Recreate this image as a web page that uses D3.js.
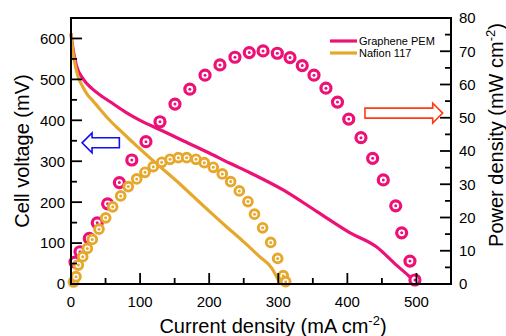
<!DOCTYPE html>
<html>
<head>
<meta charset="utf-8">
<script src="https://cdnjs.cloudflare.com/ajax/libs/d3/7.8.5/d3.min.js"></script>
<style>
  body { margin: 0; background: #fff; }
  text { font-family: "Liberation Sans", Arial, sans-serif; fill: #000; }
</style>
</head>
<body>
<div id="my_dataviz"></div>
<script>
// Polarization curves (current density mA cm-2, cell voltage mV)
var grapheneI = [0, 2, 5, 8, 18, 30, 42, 56, 80, 100, 129, 160, 200, 230, 259, 307, 356, 404, 442, 471, 490, 500];
var grapheneV = [612, 585, 555, 533, 500, 478, 462, 446, 419, 400, 377, 352, 320, 295, 272, 230, 177, 125, 91, 46, 18, 0];
var nafionI = [0, 2, 5, 10, 17, 24, 32, 42, 55, 70, 85, 100, 115, 130, 150, 177, 200, 225, 250, 273, 290, 303];
var nafionV = [612, 578, 545, 508, 482, 462, 447, 427, 402, 377, 353, 330, 307, 285, 256, 214, 178, 140, 103, 67, 40, 0];

// Power density points (current density mA cm-2, power density mW cm-2)
var graphenePI = [5.8, 13, 26.5, 38, 53, 70, 88, 108.5, 128.8, 150.5, 172, 194, 215.6, 237.3, 258, 278, 298.6, 317, 334.7, 351.7, 369, 385.7, 402, 419.7, 436.6, 452, 470, 478.6, 490.6, 497.8];
var grapheneP = [6.6, 9.7, 13.7, 18.4, 24.1, 30.5, 37.3, 42.8, 48.8, 54.1, 58.6, 62.8, 65.9, 68.2, 69.6, 70.1, 69.4, 68.1, 65.7, 62.8, 58.9, 54.7, 49.6, 44, 37.8, 31.3, 23.5, 15.4, 6.9, 1.2];
var nafionPI = [3.6, 7.2, 10.6, 16.9, 23.6, 30.8, 40.5, 50.2, 60.3, 71.9, 82.9, 95.1, 107.1, 119.1, 131.3, 143.3, 155.3, 167.4, 180.9, 192.9, 205.9, 219, 231.1, 243.6, 256.1, 265.6, 277.4, 289, 299.1, 307.2, 310.7];
var nafionP = [0.6, 2.2, 5.7, 8.2, 10.7, 13.4, 16.5, 19.9, 23.2, 26.5, 29.3, 31.6, 33.6, 35.3, 36.6, 37.5, 38.0, 38.0, 37.5, 36.5, 35.1, 33.1, 30.8, 28.0, 24.8, 21.0, 16.9, 12.5, 7.7, 2.5, 0.7];

var xTicks = [0, 100, 200, 300, 400, 500];
var xMinor = [50, 150, 250, 350, 450];
var yLeftTicks = [0, 100, 200, 300, 400, 500, 600];
var yLeftMinor = [50, 150, 250, 350, 450, 550];
var yRightTicks = [0, 10, 20, 30, 40, 50, 60, 70, 80];
var yRightMinor = [5, 15, 25, 35, 45, 55, 65, 75];

var seriesNames = ["Graphene PEM", "Nafion 117"];
var colors = ["#ec1077", "#e6a82c"];

var width = 506, height = 336;
var plotLeft = 71, plotRight = 451, plotTop = 18, plotBottom = 284;

var svg = d3.select("#my_dataviz")
    .append("svg")
    .attr("width", width)
    .attr("height", height);

var x = d3.scaleLinear().domain([0, 550]).range([plotLeft, plotRight]);
var yL = d3.scaleLinear().domain([0, 650]).range([plotBottom, plotTop]);
var yR = d3.scaleLinear().domain([0, 80]).range([plotBottom, plotTop]);

function zip(a, b) { return a.map(function(d, i) { return [d, b[i]]; }); }

var line = d3.line().curve(d3.curveMonotoneX);

// polarization lines
[[grapheneI, grapheneV, 0], [nafionI, nafionV, 1]].forEach(function(s) {
    svg.append("path")
        .attr("d", line(zip(s[0], s[1]).map(function(d) { return [x(d[0]), yL(d[1])]; })))
        .attr("fill", "none")
        .attr("stroke", colors[s[2]])
        .attr("stroke-width", 3.2)
        .attr("stroke-linejoin", "round");
});

// power density markers
function markers(I, P, c, r, sw) {
    var g = svg.append("g").selectAll("g")
        .data(zip(I, P))
        .enter()
        .append("g")
        .attr("transform", function(d) { return "translate(" + x(d[0]) + "," + yR(d[1]) + ")"; });
    g.append("circle").attr("r", r).attr("fill", "#fff").attr("stroke", c).attr("stroke-width", sw);
    g.append("circle").attr("r", 1.5).attr("fill", c);
}
markers(graphenePI, grapheneP, colors[0], 5, 3.2);
markers(nafionPI, nafionP, colors[1], 4.4, 2.9);

// frame
svg.append("rect")
    .attr("x", plotLeft).attr("y", plotTop)
    .attr("width", plotRight - plotLeft).attr("height", plotBottom - plotTop)
    .attr("fill", "none").attr("stroke", "#000").attr("stroke-width", 2);

// ticks (inward)
var tg = svg.append("g").attr("stroke", "#000").attr("stroke-width", 1.8);
xTicks.forEach(function(t) { tg.append("line").attr("x1", x(t)).attr("x2", x(t)).attr("y1", plotBottom).attr("y2", plotBottom - 11); });
xMinor.forEach(function(t) { tg.append("line").attr("x1", x(t)).attr("x2", x(t)).attr("y1", plotBottom).attr("y2", plotBottom - 6); });
yLeftTicks.forEach(function(t) { tg.append("line").attr("x1", plotLeft).attr("x2", plotLeft + 11).attr("y1", yL(t)).attr("y2", yL(t)); });
yLeftMinor.forEach(function(t) { tg.append("line").attr("x1", plotLeft).attr("x2", plotLeft + 6).attr("y1", yL(t)).attr("y2", yL(t)); });
yRightTicks.forEach(function(t) { tg.append("line").attr("x1", plotRight).attr("x2", plotRight - 11).attr("y1", yR(t)).attr("y2", yR(t)); });
yRightMinor.forEach(function(t) { tg.append("line").attr("x1", plotRight).attr("x2", plotRight - 6).attr("y1", yR(t)).attr("y2", yR(t)); });

// tick labels
svg.selectAll("xlab").data(xTicks).enter().append("text")
    .attr("x", function(d) { return x(d); })
    .attr("y", 307)
    .attr("text-anchor", "middle")
    .style("font-size", "15px")
    .text(function(d) { return d; });
svg.selectAll("ylab").data(yLeftTicks).enter().append("text")
    .attr("x", 65)
    .attr("y", function(d) { return yL(d); })
    .attr("dy", "0.36em")
    .attr("text-anchor", "end")
    .style("font-size", "15px")
    .text(function(d) { return d; });
svg.selectAll("rlab").data(yRightTicks).enter().append("text")
    .attr("x", 459)
    .attr("y", function(d) { return yR(d); })
    .attr("dy", "0.36em")
    .style("font-size", "15px")
    .text(function(d) { return d; });

// axis titles
svg.append("text")
    .attr("transform", "translate(29," + ((plotTop + plotBottom) / 2) + ")rotate(-90)")
    .attr("text-anchor", "middle")
    .style("font-size", "20px")
    .text("Cell voltage (mV)");

var xt = svg.append("text")
    .attr("x", 273).attr("y", 333)
    .attr("text-anchor", "middle")
    .style("font-size", "20px");
xt.append("tspan").text("Current density (mA cm");
xt.append("tspan").attr("dy", -8).style("font-size", "13px").text("-2");
xt.append("tspan").attr("dy", 8).text(")");

var rt = svg.append("text")
    .attr("transform", "translate(503,135)rotate(-90)")
    .attr("text-anchor", "middle")
    .style("font-size", "20px");
rt.append("tspan").text("Power density (mW cm");
rt.append("tspan").attr("dy", -8).style("font-size", "13px").text("-2");
rt.append("tspan").attr("dy", 8).text(")");

// legend
seriesNames.forEach(function(n, i) {
    var ly = 41 + i * 12;
    svg.append("line")
        .attr("x1", 330).attr("x2", 357).attr("y1", ly).attr("y2", ly)
        .attr("stroke", colors[i]).attr("stroke-width", 3.2);
    svg.append("text")
        .attr("x", 359).attr("y", ly).attr("dy", "0.36em")
        .style("font-size", "11px")
        .text(n);
});

// arrows pointing to each axis
function arrow(tipI, tailI, cy, yScale, dir, col) {
    var tx = x(tipI), ex = x(tailI), yc = yScale(cy);
    var hb = tx + dir * 10;
    var pts = [[tx, yc], [hb, yc - 10], [hb, yc - 5], [ex, yc - 5], [ex, yc + 5], [hb, yc + 5], [hb, yc + 10]];
    svg.append("path")
        .attr("d", "M" + pts.join("L") + "Z")
        .attr("fill", "#fff")
        .attr("stroke", col)
        .attr("stroke-width", 1.6);
}
arrow(16, 70, 345, yL, 1, "#1010f0");
arrow(538, 425.5, 51.4, yR, -1, "#ff3b10");
</script>
</body>
</html>
